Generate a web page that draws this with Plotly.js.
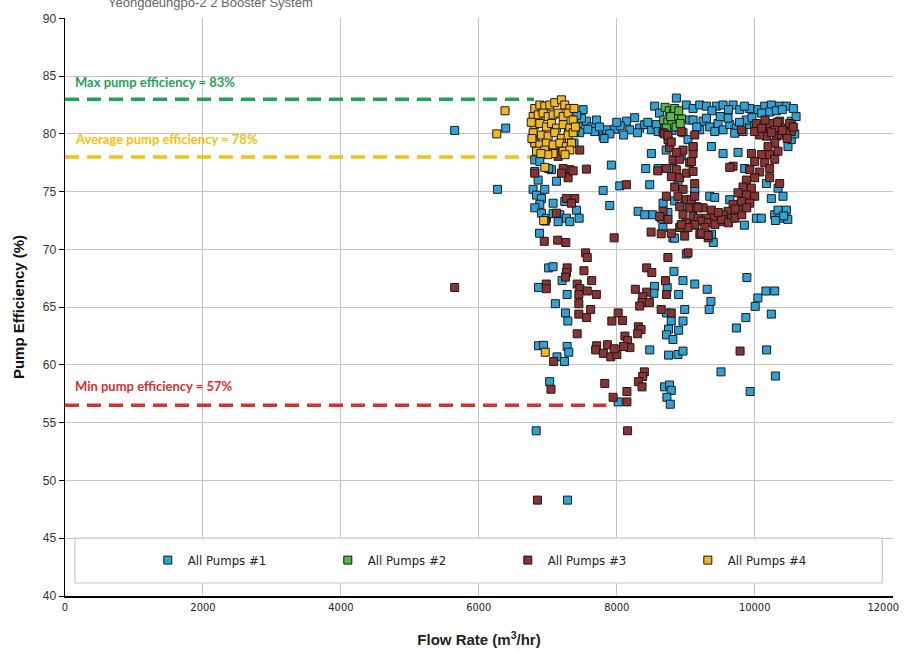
<!DOCTYPE html>
<html>
<head>
<meta charset="utf-8">
<script src="https://cdn.plot.ly/plotly-3.0.1.min.js"></script>
<style>html,body{margin:0;padding:0;background:#fff;}#chart{width:906px;height:653px;}</style>
</head>
<body>
<div id="chart"></div>
<script>
// ---------------- DATA ----------------
var seriesNames = ["All Pumps #1", "All Pumps #2", "All Pumps #3", "All Pumps #4"];

var pump1 = [
[5650,80.3],[6270,75.2],[6390,80.5],
[7512,82.1],[7439,80.9],[7560,81.1],[7633,80.6],[7705,81.2],[7802,79.8],[7850,80.35],[7971,80.4],[8140,81.1],[8188,80.35],[8260,81.4],[8333,80.5],[8405,80.8],[8502,80.35],[8574,80.8],[7463,80.1],[7391,80.2],[7488,81.35],
[7680,80.2],[7750,80.6],[7900,80.0],[8050,80.7],[8100,79.9],[8300,80.1],[8450,81.0],[8600,80.2],[7580,80.4],[8000,81.0],
[8550,82.4],[8620,81.8],[8864,83.1],[9009,82.5],[9106,82.2],[9057,81.2],[8961,80.1],[9033,79.5],[9106,78.9],[8700,80.5],[8800,80.3],[8900,80.6],
[7816,79.6],
[7922,77.3],[7802,75.1],[7898,73.8],[8043,75.5],[8478,75.6],[8502,78.3],[8420,77.0],[8599,77.0],[8309,73.3],[8405,73.0],[8671,74.0],[8717,78.6],[8936,78.1],[8814,77.0],[8887,75.7],[8839,74.2],[8985,73.8],[8668,71.9],[8814,71.0],[8644,72.7],[8741,73.2],[8522,73.0],[9131,75.1],
[9374,71.3],[9399,70.6],[9348,74.6],[9420,74.5],[9638,74.3],[9855,77.0],[9850,72.1],
[10338,75.3],[10241,74.4],[10410,74.6],[10169,75.7],[10024,72.7],[10096,72.7],[10290,73.0],[10362,72.7],[10459,73.4],[10338,73.4],[10480,72.6],[10420,72.9],[10300,72.5],
[6811,77.75],[6884,77.6],[6811,76.75],[6860,76.0],[6787,75.2],[6836,74.7],[6908,74.4],[6956,75.2],[7053,76.9],[6884,73.9],[6811,73.6],[6908,73.14],[6980,72.7],[7077,74.0],[7077,73.1],[7174,73.0],[7270,72.7],[7415,73.4],[7454,72.7],[7125,75.9],[7246,74.15],[7150,72.4],[7319,72.4],[7012,77.0],[6881,71.4],
[6800,79.5],[7380,79.2],[7420,81.6],[7300,80.3],
[9203,82.5],[9300,82.4],[9444,82.4],[9541,82.5],[9686,82.5],[9783,82.1],[9927,82.2],[10048,82.1],[10145,82.4],[10241,82.5],[10362,82.4],[10459,82.4],[10217,81.9],[10314,82.0],[9380,82.0],[9620,82.1],[9850,82.4],[10400,82.1],[10100,81.8],
[9106,81.2],[9251,81.1],[9348,80.6],[9468,80.9],[9541,80.35],[9638,80.8],[9734,80.5],[9831,80.2],[9927,80.8],[9300,81.36],[9613,81.36],[9879,81.2],[9203,80.35],[9420,80.2],[9710,80.06],[10000,80.9],[9160,80.6],[9500,81.5],[9780,81.0],[9960,81.4],
[9372,78.9],[9541,78.3],[9758,78.4],[10483,78.9],[10531,79.5],[10531,81.1],[10580,80.0],[10600,81.5],[10560,82.2],
[8839,70.97],[9009,69.6],[7012,68.4],[7076,68.5],[7207,67.3],[6866,66.7],[7280,66.1],[7110,65.3],[7256,64.5],[7290,63.8],[6866,61.66],[6939,61.7],[7280,61.6],[7304,61.1],[7134,60.7],[7241,60.3],
[8829,68.1],[8960,67.3],[9131,67.0],[9311,66.55],[9365,65.5],[9340,64.8],[8546,66.8],[8537,66.2],[8731,66.7],[8897,66.1],[8722,64.5],[8790,63.8],[8985,64.8],[8960,63.8],[8751,63.1],[8897,63.0],[8722,62.6],[8814,62.2],[8478,61.3],[8751,60.85],[8887,60.9],[8960,61.2],
[9886,67.57],[10046,65.8],[10163,66.4],[10290,66.4],[10007,65.07],[10241,64.4],[9871,64.1],[9735,63.2],[10173,61.3],[9511,59.4],[10300,59.04],[9934,57.7],
[7027,58.55],[8693,58.1],[8765,58.26],[8790,57.8],[8727,57.2],[8776,56.6],[8020,56.8],[6832,54.3],[7285,48.3]
];

var pump2 = [
[8700,82.3],[8760,82.0],[8820,81.8],[8880,81.5],[8940,81.3],[8680,81.2],[8740,81.0],[8800,80.8],[8860,80.6],[8920,80.9],[8780,81.5],[8840,82.2],[8720,80.5],[8900,82.0]
];

var pump3 = [
[5650,66.7],[6850,48.3],
[7463,78.6],[7101,78.5],[7150,78.05],[7319,76.9],[7222,77.0],[7294,76.2],[7367,76.8],[7560,76.95],[7198,76.6],[7270,74.4],[7391,74.4],[7343,74.0],[6811,76.6],[7125,73.14],[6964,72.45],[8140,75.6],[8595,76.8],
[8671,80.1],[8743,79.5],[8767,78.8],[8816,77.8],[8719,77.0],[8864,76.9],[8792,76.3],[8912,76.2],[8840,75.4],[8961,75.2],[8888,74.6],[9009,74.3],[8912,73.7],[9057,73.6],[8961,73.0],[9106,72.85],[9009,72.3],[9130,72.1],[8912,77.8],[9057,77.5],[9106,78.3],[9009,76.6],[9130,75.7],[8961,78.6],[8719,74.6],[8671,73.3],[8743,72.6],[8622,72.85],
[8912,71.9],[8985,71.15],[8790,71.4],
[8693,80.0],[8936,80.2],[9131,79.9],[8741,79.87],[8790,79.3],[8863,78.4],
[10024,80.9],[10120,80.2],[10217,80.9],[10290,80.35],[10362,81.1],[10435,80.5],[10507,80.9],[10531,80.2],[10169,79.8],[10314,79.8],[10072,79.9],[10386,79.9],[10241,80.1],[9999,80.2],[10459,80.06],
[10290,79.2],[10193,78.9],[10338,78.5],[10217,78.2],[10096,78.2],[10290,77.8],[10145,77.5],[10000,77.6],[10217,77.0],[10072,76.7],[9927,76.9],[9951,78.3],[10000,76.2],[9879,76.0],[9831,75.4],[9951,75.3],[9879,74.7],[9758,74.9],[10000,74.6],[9807,74.15],[9927,74.0],[9686,73.9],[9758,73.4],[9613,73.3],[9662,72.7],[9541,73.0],[9493,72.4],[9396,72.85],[9372,73.4],[9300,72.7],[9251,73.6],[9179,72.7],[9155,73.7],[9082,74.3],[9130,74.6],[9686,77.2],[9638,77.1],[9106,76.75],[9082,77.6],[9106,78.9],[9807,80.35],[10217,76.2],[10362,75.7],
[10560,80.6],[10400,80.3],[10100,80.5],[10330,81.0],[10470,79.6],[10150,81.2],
[9228,72.45],[9325,72.3],[9423,72.15],[9520,72.6],[9618,72.3],[9715,72.7],[9812,73.0],[9180,73.6],[9277,71.9],[9472,73.2],[9715,73.5],[9885,73.6],[9131,72.15],[9033,71.9],[8936,72.15],[9204,71.3],[9325,71.0],
[6949,70.7],[7144,70.8],[7261,70.6],[7962,71.0],[8498,71.5],[8644,71.35],[9228,71.4],[9325,71.2],[7548,69.7],[7572,69.3],[8741,69.3],[9033,69.7],
[7280,68.4],[7270,68.0],[7524,68.15],[7256,67.6],[7636,67.3],[6978,67.0],[6978,66.6],[7426,67.0],[7465,66.6],[7572,66.4],[7704,66.1],[7450,66.1],[7450,65.3],[7621,64.8],[7450,64.4],[7563,64.1],
[8434,68.4],[8508,68.0],[8707,67.3],[8722,66.1],[8269,66.55],[8434,66.3],[8376,65.9],[8366,65.4],[8473,65.4],[8332,65.1],[8644,64.8],[8790,64.5],[8020,64.5],[7928,63.8],[8084,63.85],[7426,62.7],[8313,63.3],[8352,63.06],[8303,62.7],[8118,62.5],[8157,62.1],[8191,61.5],[8098,61.6],
[7709,61.66],[7694,61.3],[7806,61.0],[7865,61.75],[7913,60.7],[8001,60.9],[7962,61.4],[7085,60.3],[9788,61.2],
[8400,59.4],[8376,59.0],[8313,58.55],[8366,58.1],[7826,58.4],[8147,57.7],[7947,57.2],[8147,56.8],[7046,57.9],[8157,54.3]
];

var pump4 = [
[6260,80.0],[6380,82.0],[6957,77.1],[6940,72.5],[6963,61.1],
[6811,82.2],[6884,82.5],[6956,82.4],[7029,82.5],[7101,82.7],[7198,82.95],[7246,82.5],[7319,82.2],
[6787,81.5],[6860,81.65],[6932,81.8],[7005,81.5],[7077,81.65],[7150,81.8],[7222,81.5],[7294,81.8],[7367,81.2],
[6811,80.8],[6884,80.9],[6980,80.6],[7053,80.9],[7125,80.5],[7222,80.8],[7319,80.5],
[6787,80.1],[6908,79.9],[7005,79.8],[7101,80.1],[7198,79.6],[7294,79.9],[7367,80.1],
[6811,79.2],[6884,79.05],[6980,79.2],[7077,79.05],[7174,79.2],[7270,78.9],[7343,79.2],
[6836,78.5],[6956,78.6],[7077,78.3],[7222,78.5],[7319,78.6],
[7400,80.6],[7380,82.2],[6760,81.0],[6770,79.6],[7250,78.2],[7000,78.2],[6900,78.3]
];

// reference lines: level (%), end of line (flow), label
var refLevels = [83, 78, 56.5];
var refEnds = [6800, 6900, 7850];
var refLabels = ["Max pump efficiency = 83%", "Average pump efficiency = 78%", "Min pump efficiency = 57%"];

var xTicks = [0, 2000, 4000, 6000, 8000, 10000, 12000];
var xTickText = ["0", "2000", "4000", "6000", "8000", "10000", "12000&nbsp;&nbsp;&nbsp;&nbsp;&nbsp;&nbsp;"];
var yTicks = [40, 45, 50, 55, 60, 65, 70, 75, 80, 85, 90];

// ---------------- STYLE ----------------
var colors = ["#2fa3d8", "#55b847", "#8b3232", "#f2b823"];
var refColors = ["#1ea454", "#f3c10e", "#d9302b"];
var labelY = [84.45, 79.55, 58.2];
var narrow = "'DejaVu Sans Condensed', 'Liberation Sans Narrow', sans-serif";

var all = [pump1, pump2, pump3, pump4];
var traces = all.map(function (s, i) {
  return {
    type: "scatter", mode: "markers", name: seriesNames[i],
    x: s.map(function (p) { return p[0]; }),
    y: s.map(function (p) { return p[1]; }),
    marker: { symbol: "square", size: 8, color: colors[i], line: { color: "#1a1a1a", width: 1 } },
    hoverinfo: "x+y"
  };
});

refLevels.forEach(function (lv, i) {
  traces.unshift({
    type: "scatter", mode: "lines", showlegend: false, hoverinfo: "skip",
    x: [0, refEnds[i]], y: [lv, lv],
    line: { color: refColors[i], width: 3.5, dash: "14px,8px" }
  });
});

var annotations = refLabels.map(function (t, i) {
  return {
    xref: "x", yref: "y", x: 120, y: labelY[i], xanchor: "left", yanchor: "middle",
    text: "<b>" + t + "</b>", showarrow: false,
    font: { family: "Lato, 'Open Sans', sans-serif", size: 13, color: refColors[i] }
  };
});
annotations.push({
  xref: "paper", yref: "paper", x: 0.05, y: 1.026, xanchor: "left", yanchor: "middle",
  text: "Yeongdeungpo-2 2 Booster System", showarrow: false,
  font: { family: "Liberation Sans, Arial, sans-serif", size: 13, color: "#666" }
});

var layout = {
  width: 906, height: 653,
  margin: { l: 65, r: 13, t: 18, b: 57 },
  paper_bgcolor: "#fff", plot_bgcolor: "#fff",
  showlegend: true,
  legend: {
    orientation: "h", x: 0.1, xanchor: "left", y: 0.062, yanchor: "middle",
    bgcolor: "rgba(0,0,0,0)", borderwidth: 0,
    entrywidth: 135, entrywidthmode: "pixels", itemwidth: 30,
    font: { family: narrow, size: 13, color: "#222" }
  },
  xaxis: {
    range: [0, 12005], tickvals: xTicks, ticktext: xTickText,
    showgrid: true, gridcolor: "#c4c4c4", gridwidth: 1, zeroline: false,
    showline: true, linecolor: "#000", linewidth: 1.5, ticks: "",
    ticklabeloverflow: "allow",
    tickfont: { family: narrow, size: 11, color: "#222" },
    title: { text: "<b>Flow Rate (m<sup>3</sup>/hr)</b>", font: { family: "Liberation Sans, Arial, sans-serif", size: 15, color: "#222" }, standoff: 22 }
  },
  yaxis: {
    range: [40, 90.03], tickvals: yTicks, ticktext: yTicks.map(String),
    showgrid: true, gridcolor: "#c4c4c4", gridwidth: 1, zeroline: false,
    showline: true, linecolor: "#000", linewidth: 1.5, ticks: "outside", ticklen: 5, tickcolor: "#000",
    tickfont: { family: "Liberation Sans, Arial, sans-serif", size: 12, color: "#333" },
    title: { text: "<b>Pump Efficiency (%)</b>", font: { family: "Liberation Sans, Arial, sans-serif", size: 15, color: "#111" }, standoff: 14 }
  },
  shapes: [{
    type: "rect", xref: "paper", yref: "paper", x0: 0.012, x1: 0.987, y0: 0.0225, y1: 0.1003,
    line: { color: "#c8c8c8", width: 1.2 }, fillcolor: "#fff", layer: "above"
  }],
  annotations: annotations
};

Plotly.newPlot("chart", traces, layout, { displayModeBar: false, staticPlot: true });
</script>
</body>
</html>
